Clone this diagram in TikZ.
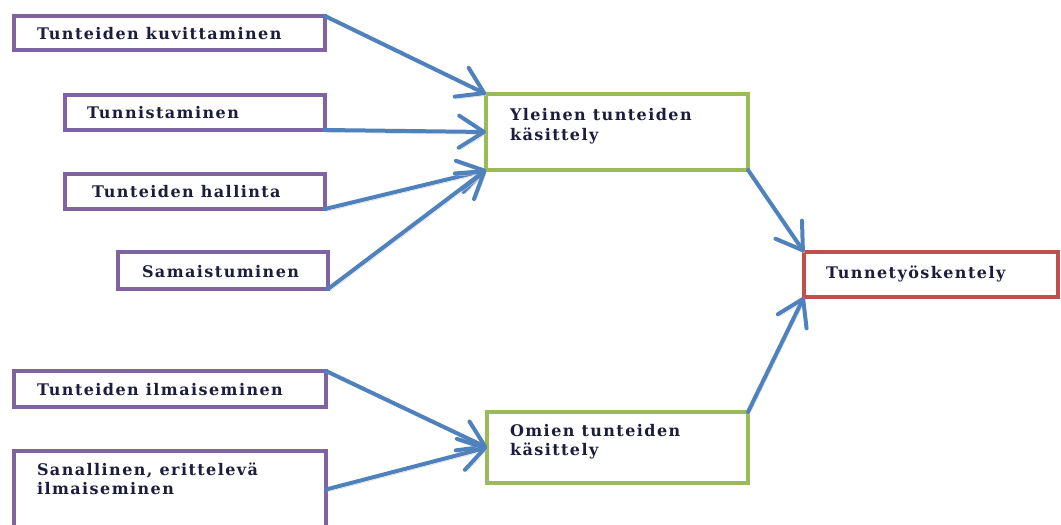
\documentclass[tikz,border=0pt]{standalone}
\usepackage{fontspec}
\setmainfont{DejaVu Serif}
\newfontfamily\lblfont[LetterSpace=9]{DejaVu Serif}
\usetikzlibrary{arrows.meta,calc}
\definecolor{pcol}{RGB}{128,100,162}
\definecolor{gcol}{RGB}{155,187,89}
\definecolor{rcol}{RGB}{192,80,77}
\definecolor{acol}{RGB}{79,129,189}
\definecolor{tcol}{RGB}{28,28,60}
\tikzset{
  boxbase/.style={rectangle, inner sep=0pt, outer sep=0pt, fill=white, anchor=north west},
  pbox/.style={boxbase, draw=pcol, line width=4pt},
  gbox/.style={boxbase, draw=gcol, line width=4.5pt},
  rbox/.style={boxbase, draw=rcol, line width=4pt},
  txt/.style={inner sep=0pt, outer sep=0pt, text=tcol, align=left,
    font=\lblfont\bfseries\fontsize{16}{19.5}\selectfont},
  conn/.style={draw=acol, line width=4pt, line cap=round, line join=round,
    -{Straight Barb[length=25pt,width=32pt,line width=4pt,round]},
    preaction={draw=black!18, transform canvas={shift={(1.5pt,-2.5pt)}}}},
}
\begin{document}
\begin{tikzpicture}[x=1pt,y=-1pt]
\useasboundingbox (0,0) rectangle (1061,525);
% purple boxes
\node[pbox, minimum width=311pt, minimum height=34pt] (kuv) at (14,16) {};
\node[pbox, minimum width=260pt, minimum height=35pt] (tun) at (65,95) {};
\node[pbox, minimum width=260pt, minimum height=35pt] (hal) at (65,174) {};
\node[pbox, minimum width=210pt, minimum height=37pt] (sam) at (118,252) {};
\node[pbox, minimum width=312pt, minimum height=36pt] (ilm) at (14,371) {};
\node[pbox, minimum width=312pt, minimum height=77pt] (san) at (14,451) {};
% green boxes
\node[gbox, minimum width=262pt, minimum height=76pt] (yle) at (486,94) {};
\node[gbox, minimum width=261pt, minimum height=71pt] (omi) at (487,412) {};
% red box
\node[rbox, minimum width=254pt, minimum height=45pt] (tyo) at (804,252) {};
% texts
\node[txt, anchor=base west] at (37,39) {Tunteiden kuvittaminen};
\node[txt, anchor=base west] at (87,118) {Tunnistaminen};
\node[txt, anchor=base west] at (92,197) {Tunteiden hallinta};
\node[txt, anchor=base west] at (142,277) {Samaistuminen};
\node[txt, anchor=base west] at (37,395) {Tunteiden ilmaiseminen};
\node[txt, anchor=base west] at (37,475) {Sanallinen, erittelevä};
\node[txt, anchor=base west] at (37,494) {ilmaiseminen};
\node[txt, anchor=base west] at (510,120) {Yleinen tunteiden};
\node[txt, anchor=base west] at (510,140) {käsittely};
\node[txt, anchor=base west] at (510,436) {Omien tunteiden};
\node[txt, anchor=base west] at (510,455) {käsittely};
\node[txt, anchor=base west] at (826,278) {Tunnetyöskentely};
% connectors
\draw[conn] (kuv.north east) -- (yle.north west);
\draw[conn] (tun.south east) -- (yle.west);
\draw[conn] (hal.south east) -- (yle.south west);
\draw[conn] (sam.south east) -- (yle.south west);
\draw[conn] (ilm.north east) -- (omi.west);
\draw[conn] (san.east) -- (omi.west);
\draw[conn] (yle.south east) -- (tyo.north west);
\draw[conn] (omi.north east) -- (tyo.south west);
\end{tikzpicture}
\end{document}
